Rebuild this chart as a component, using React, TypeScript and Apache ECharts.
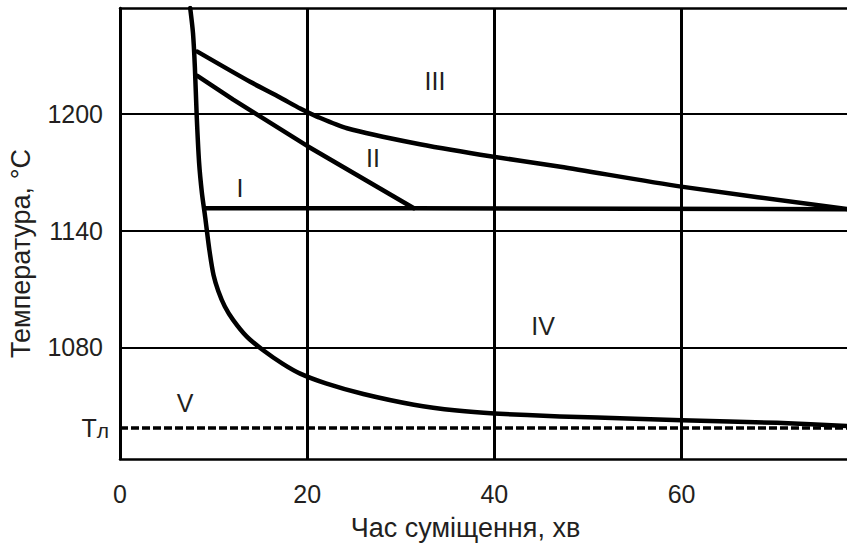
import React, { useEffect, useRef } from 'react';
import * as echarts from 'echarts';

// Time of mixing, min (x) / temperature, °C (y)
const xTickStep = 20;
const yGridValues = [1080, 1140, 1200];
const TL = 1038.5; // liquidus temperature Tл

// Curve bounding zone V (steep cooling curve)
const curveV: [number, number][] = [
  [7.5, 1254.4], [7.8, 1241.5], [8.0, 1224], [8.2, 1198.5], [8.45, 1175],
  [8.75, 1159.5], [9.1, 1147], [9.55, 1130], [10.0, 1117], [10.5, 1109],
  [11.2, 1101], [12.1, 1094], [13.55, 1085.5], [15.3, 1078.5], [17.4, 1071.5],
  [19.25, 1066.5], [22.0, 1061.5], [26.0, 1056], [31.4, 1050.5], [36.0, 1047.5],
  [40.0, 1046], [47.0, 1044.5], [55.0, 1043.3], [60.0, 1042.5], [70.2, 1041.2],
  [78.0, 1039.5],
];

// Line I (horizontal boundary)
const lineI: [number, number][] = [
  [9.1, 1151.5], [31.4, 1151.5], [78.0, 1151],
];

// Line II
const lineII: [number, number][] = [
  [8.27, 1219.5], [12.1, 1207.3], [20.0, 1183.5], [31.4, 1151.5],
];

// Line III
const lineIII: [number, number][] = [
  [8.27, 1232], [13.9, 1216.5], [17.1, 1208.4], [19.25, 1202.7], [21.04, 1198.6],
  [24.25, 1192.6], [31.37, 1185], [38.5, 1179], [47.06, 1172.8], [59.97, 1162.6],
  [77.75, 1151],
];

// Tл dashed level
const lineTL: [number, number][] = [[0, TL], [78, TL]];

const FONT = 'Liberation Sans, Arial, sans-serif';
const TEXT = '#231f20';

export default function App() {
  const ref = useRef<HTMLDivElement>(null);

  useEffect(() => {
    const chart = echarts.init(ref.current!, null, { renderer: 'svg' });
    const curveStyle = { color: '#000', width: 4.5, join: 'round', cap: 'round' };
    chart.setOption({
      animation: false,
      backgroundColor: '#fff',
      grid: { left: 120, right: -3, top: 8, bottom: 86, containLabel: false, outerBoundsMode: 'none' },
      xAxis: [
        {
          type: 'value', min: 0, max: 78, interval: xTickStep, position: 'bottom',
          axisLine: { show: true, onZero: false, lineStyle: { color: '#000', width: 2.5 } },
          axisTick: { show: false },
          axisLabel: { color: TEXT, fontSize: 25, fontFamily: FONT, margin: 22, showMaxLabel: false },
          splitLine: { show: true, lineStyle: { color: '#000', width: 3 } },
        },
        {
          type: 'value', min: 0, max: 78, position: 'top',
          axisLine: { show: true, onZero: false, lineStyle: { color: '#000', width: 2.5 } },
          axisTick: { show: false }, axisLabel: { show: false }, splitLine: { show: false },
        },
      ],
      yAxis: {
        type: 'value', min: 1022.6, max: 1254.4,
        axisLine: { show: true, onZero: false, lineStyle: { color: '#000', width: 2.5 } },
        axisTick: { show: false },
        splitLine: { show: false },
        axisLabel: {
          customValues: [TL, ...yGridValues],
          margin: 11,
          color: TEXT, fontSize: 25, fontFamily: FONT,
          formatter: (v: number) => (Math.abs(v - TL) < 0.01 ? '{t|Т}{s|л}' : '{n|' + v + '}'),
          rich: {
            n: { fontSize: 25, fontFamily: FONT, color: TEXT, padding: [0, 6, 0, 0] },
            t: { fontSize: 25, fontFamily: FONT, color: TEXT },
            s: { fontSize: 21, fontFamily: FONT, color: TEXT, padding: [4, 0, 0, 0] },
          },
        },
      },
      series: [
        {
          name: 'V', type: 'line', data: curveV, showSymbol: false, symbol: 'none',
          smooth: 0.25, lineStyle: curveStyle, z: 5,
          markLine: {
            silent: true, symbol: 'none', label: { show: false },
            lineStyle: { color: '#000', width: 2.2, type: 'solid' },
            data: yGridValues.map((v) => ({ yAxis: v })),
            z: 2,
          },
        },
        { name: 'I', type: 'line', data: lineI, symbol: 'none', lineStyle: curveStyle, z: 5 },
        { name: 'II', type: 'line', data: lineII, symbol: 'none', lineStyle: curveStyle, z: 5 },
        { name: 'III', type: 'line', data: lineIII, symbol: 'none', smooth: 0.25, lineStyle: curveStyle, z: 5 },
        { name: 'Tл', type: 'line', data: lineTL, symbol: 'none', lineStyle: { color: '#000', width: 3.5, type: [8, 3] }, z: 4 },
      ],
      graphic: [
        { type: 'text', x: 465.5, y: 528, style: { text: 'Час суміщення, хв', fontSize: 27, fontFamily: FONT, fill: TEXT, textAlign: 'center', textVerticalAlign: 'middle' } },
        { type: 'text', x: 21, y: 253.5, rotation: Math.PI / 2, style: { text: 'Температура, °С', fontSize: 27, fontFamily: FONT, fill: TEXT, textAlign: 'center', textVerticalAlign: 'middle' } },
        { type: 'text', x: 240, y: 188, style: { text: 'I', fontSize: 25, fontFamily: FONT, fill: TEXT, textAlign: 'center', textVerticalAlign: 'middle' } },
        { type: 'text', x: 373, y: 157.5, style: { text: 'II', fontSize: 25, fontFamily: FONT, fill: TEXT, textAlign: 'center', textVerticalAlign: 'middle' } },
        { type: 'text', x: 435, y: 80.5, style: { text: 'III', fontSize: 25, fontFamily: FONT, fill: TEXT, textAlign: 'center', textVerticalAlign: 'middle' } },
        { type: 'text', x: 543, y: 326, style: { text: 'IV', fontSize: 25, fontFamily: FONT, fill: TEXT, textAlign: 'center', textVerticalAlign: 'middle' } },
        { type: 'text', x: 185, y: 402.5, style: { text: 'V', fontSize: 25, fontFamily: FONT, fill: TEXT, textAlign: 'center', textVerticalAlign: 'middle' } },
      ],
    });
    return () => chart.dispose();
  }, []);

  return (
    <div
      ref={ref}
      style={{ position: 'absolute', left: 0, top: 0, width: 847, height: 545, background: '#fff' }}
    />
  );
}
